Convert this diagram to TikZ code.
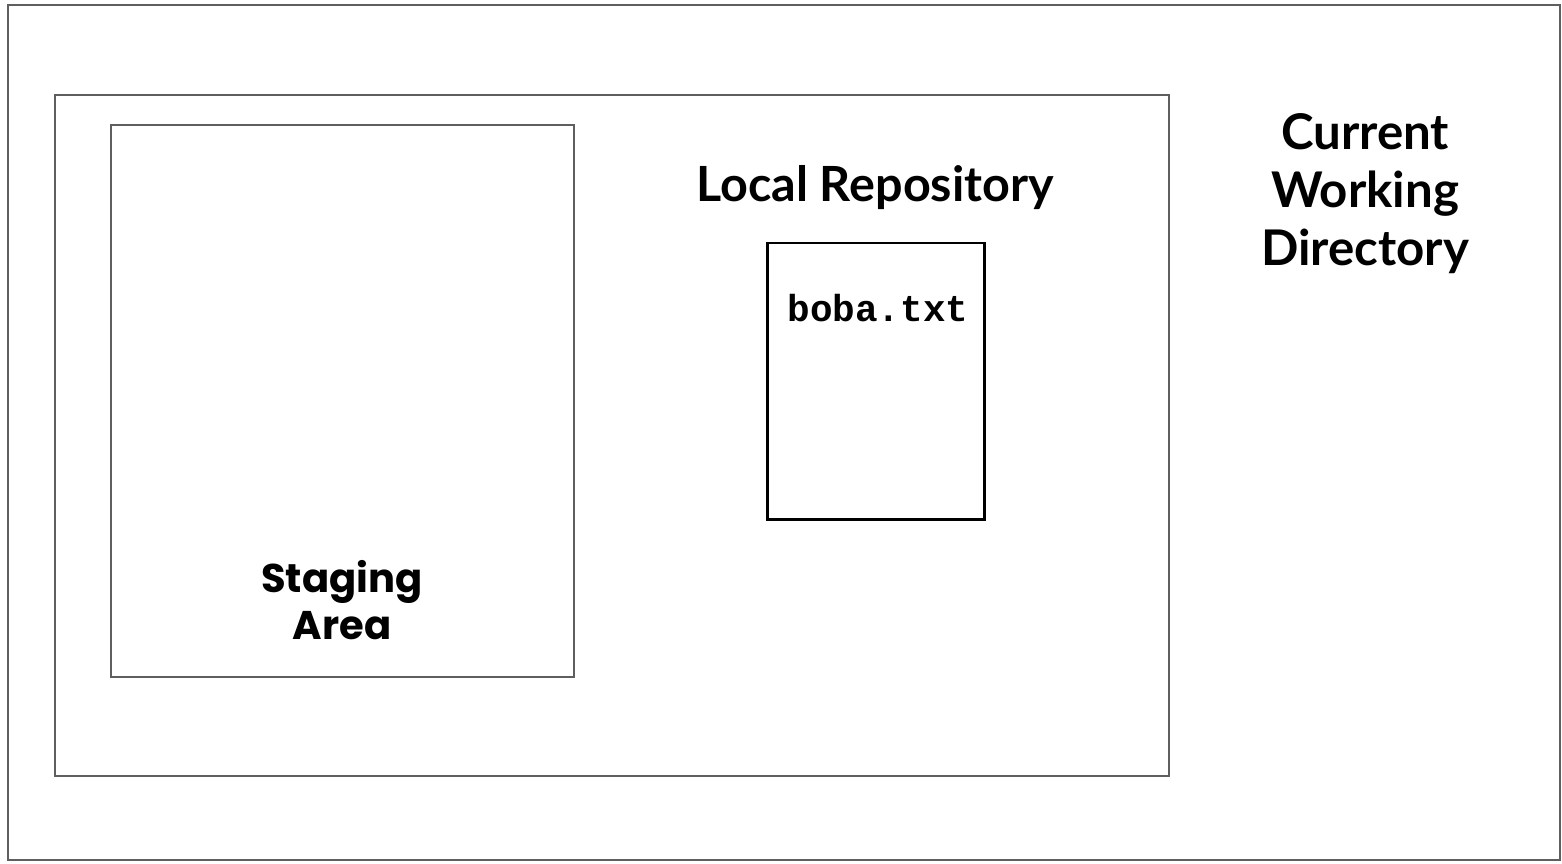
\documentclass[tikz,border=0pt]{standalone}
\usepackage{fontspec}
\setmainfont{Lato}
\newfontfamily\stagefont{Poppins}
\setmonofont{Liberation Mono}
\definecolor{framegray}{HTML}{5F5F5F}
\tikzset{
    frame/.style={draw=framegray, line width=0.45pt, inner sep=0pt},
    filebox/.style={draw=black, line width=0.85pt, inner sep=0pt},
    title/.style={font=\fontsize{13.8}{16.5}\selectfont\bfseries, align=center},
}
\begin{document}
\begin{tikzpicture}
        \useasboundingbox (0,0) rectangle (15.62,-8.63);
        % boxes
            \node[frame, minimum width=15.52cm, minimum height=8.55cm] (cwd) at (7.84,-4.325) {};
            \node[frame, minimum width=11.14cm, minimum height=6.81cm] (repo) at (6.12,-4.355) {};
            \node[frame, minimum width=4.63cm, minimum height=5.52cm] (stage) at (3.425,-4.01) {};
            \node[filebox, minimum width=2.17cm, minimum height=2.76cm] (file) at (8.755,-3.81) {};
        % labels
            \node[title, anchor=base] (repolabel) at (8.75,-2.01) {Local Repository};
            \node[title, font=\fontsize{14}{16.5}\selectfont\bfseries] (cwdlabel) at (13.65,-1.94) {Current\\Working\\Directory};
            \node[align=center, font=\stagefont\fontsize{11.4}{13.3}\selectfont\bfseries] (stagelabel) at (3.42,-6.0) {Staging\\Area};
            \node[anchor=base, font=\ttfamily\fontsize{10.7}{12}\selectfont\bfseries] (filename) at (8.78,-3.21) {boba.txt};
\end{tikzpicture}
\end{document}
